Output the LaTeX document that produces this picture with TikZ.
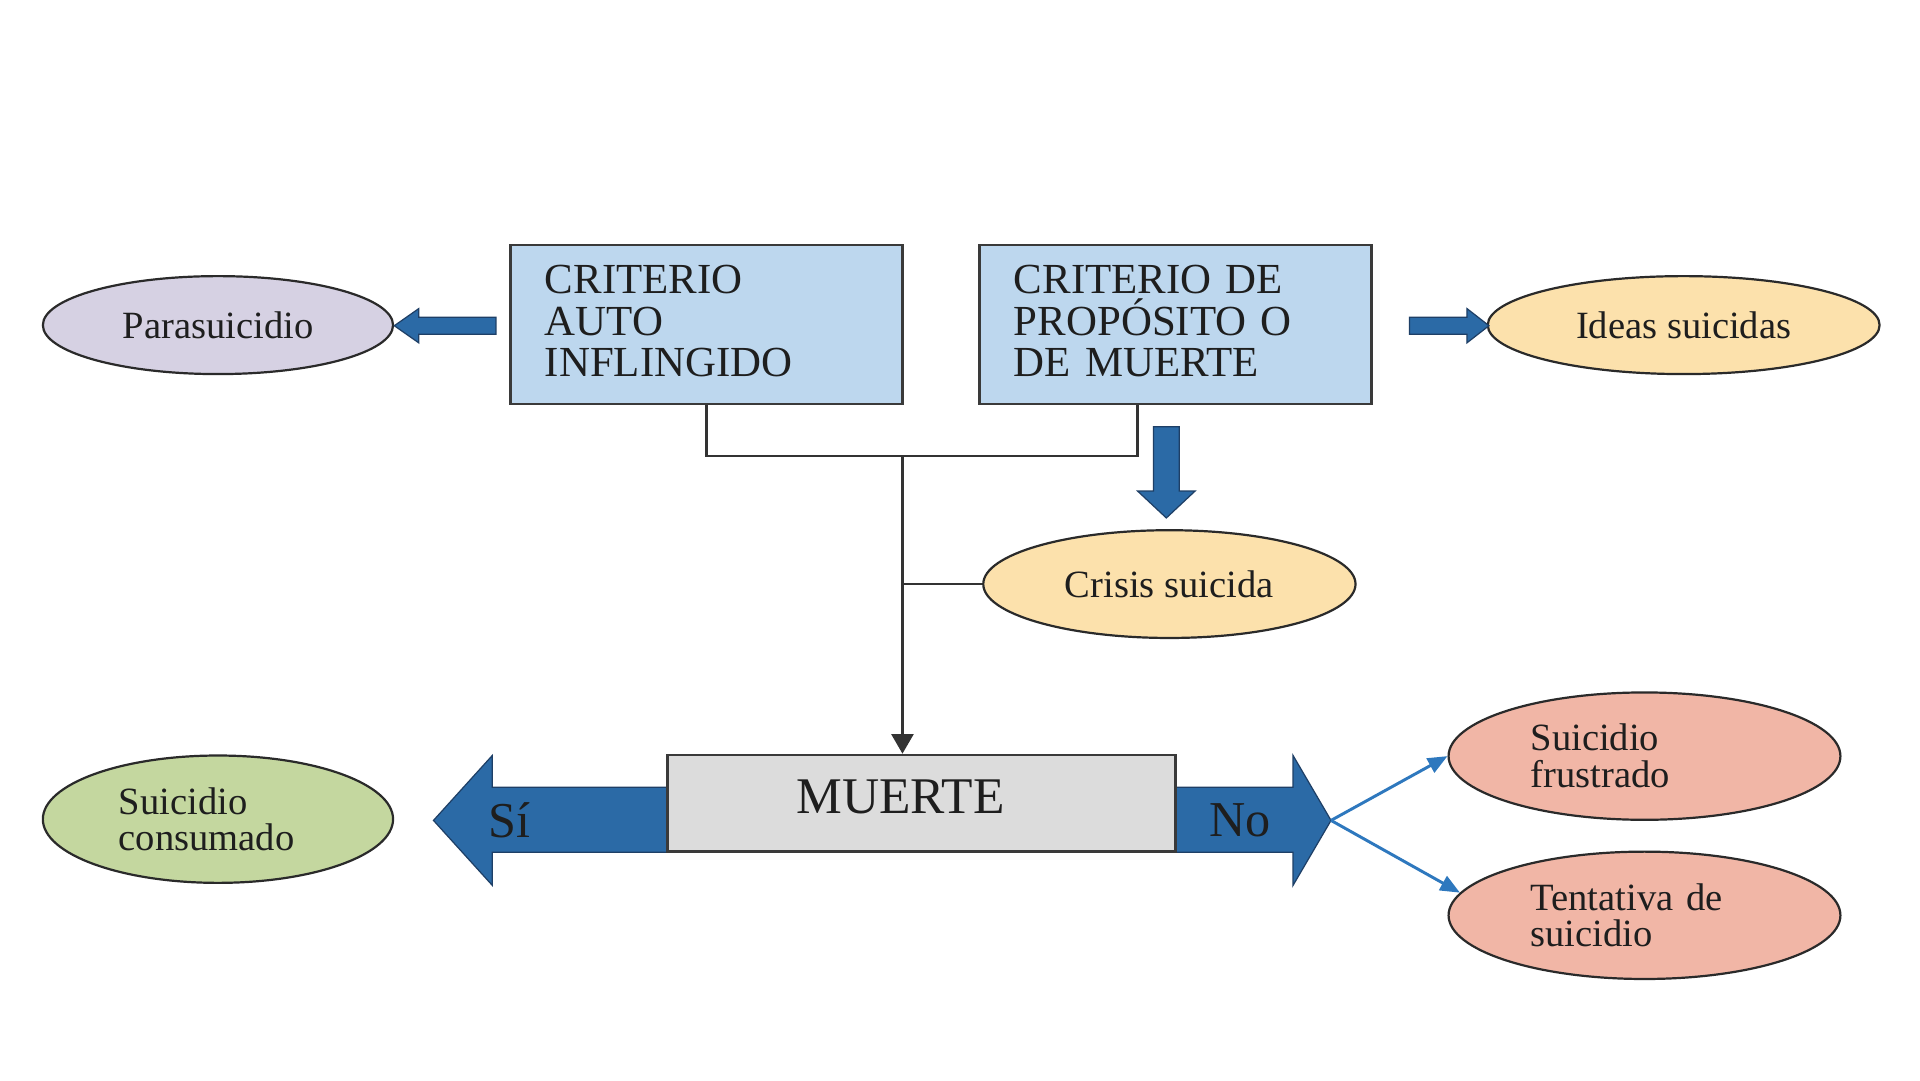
\documentclass[tikz,border=0pt]{standalone}
\usepackage{fontspec}
\setmainfont{Liberation Serif}
\usetikzlibrary{shapes.geometric,arrows.meta,calc,backgrounds}
\definecolor{edgegray}{HTML}{3A3A3A}
\definecolor{boxblue}{HTML}{BDD7EE}
\definecolor{lavender}{HTML}{D6D1E3}
\definecolor{peach}{HTML}{FCE1AC}
\definecolor{sage}{HTML}{C4D79F}
\definecolor{salmon}{HTML}{F1B6A6}
\definecolor{muertegray}{HTML}{DCDCDC}
\definecolor{arrowblue}{HTML}{2B6AA6}
\definecolor{arrowedge}{HTML}{1E3F66}
\definecolor{thinblue}{HTML}{2E78BE}
\definecolor{txt}{HTML}{1E1E1E}
\definecolor{conngray}{HTML}{333333}
\definecolor{ovaledge}{HTML}{2A2A2A}
\begin{document}
\begin{tikzpicture}[x=1bp,y=-1bp,
  box/.style={draw=edgegray, line width=2bp, fill=boxblue, minimum height=130bp,
    inner xsep=28bp, inner ysep=0bp, text width=264bp, align=left, text=txt,
    text depth=74bp, font=\fontsize{35bp}{34bp}\selectfont},
  oval/.style={ellipse, draw=ovaledge, line width=1.8bp, inner sep=0bp, text=txt,
    font=\fontsize{31.5bp}{30bp}\selectfont},
  conn/.style={draw=conngray, line width=2bp},
  blockarrow/.style={fill=arrowblue, draw=arrowedge, line width=1bp, line join=miter},
  thinarrow/.style={draw=thinblue, line width=2.4bp, -{Triangle[length=16bp,width=13bp]}},
  arrowlabel/.style={text=txt, inner sep=0bp, font=\fontsize{41bp}{41bp}\selectfont},
]
\useasboundingbox (0,0) rectangle (1568,882);

% boxes
\node[box] (b1) at (577,265) {CRITERIO\\AUTO\\INFLINGIDO};
\node[box] (b2) at (960,265) {CRITERIO DE\\PROPÓSITO O\\DE MUERTE};

% ellipses
\node[oval, fill=lavender, minimum width=286bp, minimum height=80bp] (para) at (178,265.5) {Parasuicidio};
\node[oval, fill=peach, minimum width=320bp, minimum height=80bp] (ideas) at (1375,265.5) {Ideas suicidas};
\node[oval, fill=peach, minimum width=304bp, minimum height=88bp] (crisis) at (955,477) {Crisis suicida};
\node[oval, fill=sage, minimum width=286bp, minimum height=104bp, text width=162bp, align=left] (cons) at (178,669) {Suicidio\\consumado};
\node[oval, fill=salmon, minimum width=320bp, minimum height=104bp, text width=186bp, align=left] (frus) at (1343,617.5) {Suicidio\\frustrado};
\node[oval, fill=salmon, minimum width=320bp, minimum height=104bp, text width=186bp, align=left] (tent) at (1343,747.5) {Tentativa de\\suicidio};

% MUERTE box
\node[draw=edgegray, line width=2bp, fill=muertegray, minimum width=415bp, minimum height=79bp,
  text depth=10bp, text=txt, font=\fontsize{42bp}{42bp}\selectfont] (muerte) at (752.5,656) {\hspace*{-34bp}MUERTE};

% big arrows behind MUERTE
\begin{pgfonlayer}{background}
\fill[white] (0,0) rectangle (1568,882);
\path[blockarrow] (550,643) -- (402,643) -- (402,617) -- (354,670) -- (402,723) -- (402,696) -- (550,696) -- cycle;
\path[blockarrow] (955,643) -- (1056,643) -- (1056,617) -- (1087,670) -- (1056,723) -- (1056,696) -- (955,696) -- cycle;
\end{pgfonlayer}
\coordinate (notip) at (1087,670);
\node[arrowlabel] (si) at (416,670) {Sí};
\node[arrowlabel] (no) at (1013,670) {No};

% small block arrows
\path[blockarrow] (405,259) -- (342,259) -- (342,252) -- (322,266) -- (342,280) -- (342,273) -- (405,273) -- cycle;
\path[blockarrow] (1151,259) -- (1198,259) -- (1198,252) -- (1216,266) -- (1198,280) -- (1198,273) -- (1151,273) -- cycle;
\path[blockarrow] (942,348.5) -- (963,348.5) -- (963,401) -- (976,401) -- (952.5,423) -- (929,401) -- (942,401) -- cycle;

% connectors
\coordinate (jn) at (737,372.5);
\draw[conn] (b1.south) |- (jn) -| ($(b2.south)+(-31,0)$);
\draw[conn, -{Triangle[length=16bp,width=18bp]}] (jn) -- (jn |- muerte.north);
\draw[conn] (crisis.west) -- (crisis.west -| jn);

% thin blue arrows
\draw[thinarrow] (notip) -- (frus.west);
\draw[thinarrow] (notip) -- (tent.173);
\end{tikzpicture}
\end{document}
